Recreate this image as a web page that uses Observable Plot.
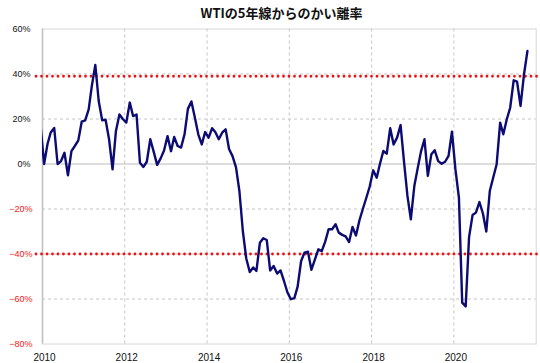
<!DOCTYPE html>
<html>
<head>
<meta charset="utf-8">
<script src="https://cdn.jsdelivr.net/npm/d3@7"></script>
<script src="https://cdn.jsdelivr.net/npm/@observablehq/plot@0.6"></script>
<style>
  body { margin: 0; background: #fff; }
  #wrap { position: relative; width: 540px; height: 363px; }
  #title { position: absolute; top: 4px; left: 281.5px; transform: translateX(-50%);
           font: bold 13px "Noto Sans CJK JP", sans-serif; line-height: 18px; white-space: nowrap; color: #111; }
</style>
</head>
<body>
<div id="wrap"><div id="title"></div></div>
<script>
const chartTitle = "WTIの5年線からのかい離率";
// monthly values (mid-month), starting Dec 2009
const firstMonth = [2009, 11];
const deviation = [
  17, 0, 9, 14, 16, 0, 1.3, 5, -5, 5.7, 8, 10.5, 18.8,
  19.4, 24.3, 34.7, 44, 28, 19.4, 19.7, 11, -2.4, 14.7, 22, 20,
  18.4, 27.3, 21.3, 22, 0.6, -1.3, 1, 11, 5.3, -0.4, 2.5, 6,
  12.4, 5.7, 12, 8, 7.3, 13.2, 24.5, 27.8, 20.6, 13.2, 8.7, 14.2,
  11.7, 15.9, 14.2, 11, 13.9, 15.4, 6.7, 3.5, -1.5, -12, -30, -42,
  -48, -46, -47.5, -35, -33, -33.8, -47.3, -45.3, -48.7, -47.3, -52, -57,
  -60.1, -59.6, -54.5, -43.1, -39.4, -39, -47, -42.5, -37.9, -38.7, -34.5, -29,
  -29, -26.8, -30.5, -31.5, -32.2, -34.7, -28, -31.8, -25, -20, -15, -10,
  -2.8, -6.1, -0.1, 5.8, 4.6, 15.9, 8.7, 11.7, 17.3, 1.3, -14.2, -24.6,
  -9.8, -1.6, 5.5, 11, -5.3, 4.3, 6.1, 1.3, 0.1, 1, 3.6, 14.4,
  -2.4, -15, -61.6, -63.3, -32.5, -22.7, -21.6, -16.9, -22, -30, -12, -6.1,
  -0.1, 18.4, 13.2, 19.9, 25, 37.2, 36.6, 25.8, 39.9, 50.2
];
const thresholds = [39, -40];
const yTicksPos = [60, 40, 20, 0];
const yTicksNeg = [-20, -40, -60, -80];
const yGrid = [40, 20, -20, -40, -60];
const xYears = [2010, 2012, 2014, 2016, 2018, 2020];
const xGridYears = [2012, 2014, 2016, 2018, 2020];
const xDomainYears = [2010, 2022];

document.getElementById("title").textContent = chartTitle;

const data = deviation.map((v, i) => ({
  date: new Date(Date.UTC(firstMonth[0], firstMonth[1] + i, 15)),
  v
}));
const yr = y => new Date(Date.UTC(y, 0, 1));

const chart = Plot.plot({
  width: 540,
  height: 363,
  marginTop: 28.5,
  marginBottom: 19.5,
  marginLeft: 42,
  marginRight: 4.3,
  style: { background: "white", fontFamily: "'Liberation Sans', Arial, sans-serif" },
  x: { type: "utc", domain: xDomainYears.map(yr), label: null },
  y: { domain: [-80, 60], label: null },
  marks: [
    Plot.ruleY(yGrid, { stroke: "#c4c4c4", strokeDasharray: "3,3" }),
    Plot.ruleX(xGridYears.map(yr), { stroke: "#c4c4c4", strokeDasharray: "3,3" }),
    Plot.ruleY([0], { stroke: "#bcbcbc" }),
    Plot.frame({ stroke: "#d8d8d8" }),
    Plot.ruleX([yr(xDomainYears[0])], { stroke: "#c0c0c0", strokeWidth: 1.6 }),
    Plot.ruleY(thresholds, { stroke: "#f01010", strokeWidth: 2.8, strokeDasharray: "0,5.5", strokeLinecap: "round", insetLeft: -6, insetRight: -6 }),
    Plot.line(data, { x: "date", y: "v", stroke: "#0b0b73", strokeWidth: 2.4, clip: true }),
    Plot.axisY(yTicksPos, { tickSize: 0, tickPadding: 12, fontSize: 9, color: "#111", label: null, tickFormat: d => d + "%" }),
    Plot.axisY(yTicksNeg, { tickSize: 0, tickPadding: 10, fontSize: 9, color: "#f02020", label: null, tickFormat: d => "−" + Math.abs(d) + "%" }),
    Plot.axisX(xYears.map(yr), { tickSize: 0, tickPadding: 10, fontSize: 10, color: "#111", label: null, dx: 2, tickFormat: d3.utcFormat("%Y") })
  ]
});
document.getElementById("wrap").prepend(chart);
</script>
</body>
</html>
